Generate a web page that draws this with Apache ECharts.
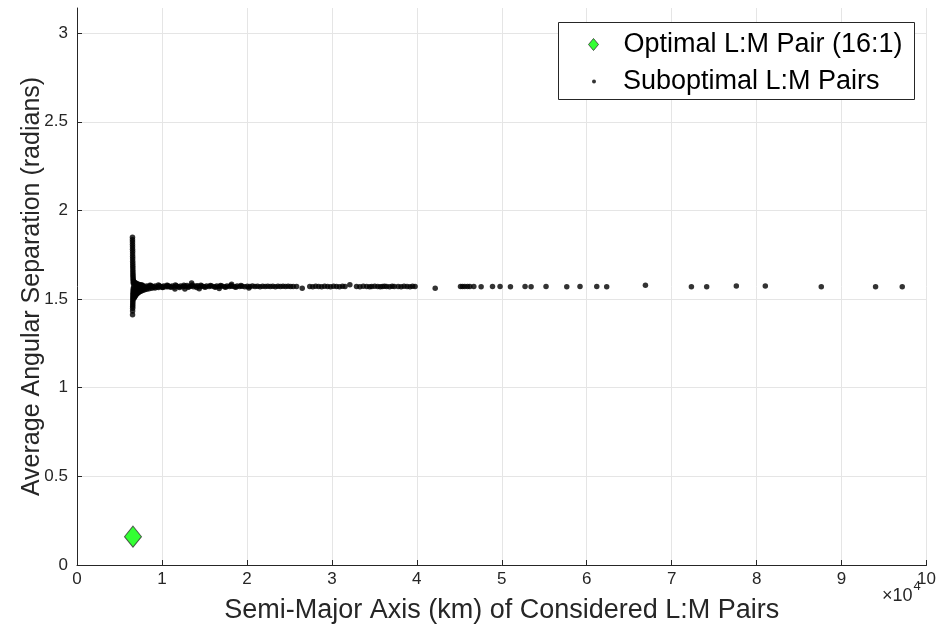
<!DOCTYPE html>
<html>
<head>
<meta charset="utf-8">
<script src="https://cdn.jsdelivr.net/npm/echarts@6/dist/echarts.min.js"></script>
<style>
html,body{margin:0;padding:0;background:#fff;}
#chart{width:939px;height:636px;}
</style>
</head>
<body>
<div id="chart"></div>
<script>
// ---- data (km, radians) ----
const optimalX = [6590];
const optimalY = [0.16];

// vertical column at the smallest semi-major axes
const columnX = [6530,6530,6535,6535,6540,6540,6545,6545,6550,6550,6555,6560,6565,6570,6575,6580,6585,6590,6600,6610,6620,6630,6640,
                 6640,6630,6620,6610,6600,6590,6585,6580,6575,6570,6565,6560,6555,6550,6545,6540];
const columnY = [1.848,1.835,1.822,1.808,1.795,1.781,1.768,1.754,1.740,1.727,1.713,1.700,1.688,1.676,1.664,1.652,1.641,1.631,1.621,1.612,1.603,1.595,1.588,
                 1.562,1.555,1.547,1.540,1.532,1.524,1.515,1.506,1.497,1.488,1.478,1.468,1.458,1.448,1.432,1.412];

// fan converging towards pi/2 just right of the column
const fanX = [6700,6760,6820,6890,6970,7060,7160,7280,7420,7580,7760,7960,8200,8480,8800,9180,9600,10100,10700,
              6720,6800,6900,7020,7180,7380,7620,7900,8250,8700,
              6700,6800,6920,7060,7240,7460,7720];
const fanY = [1.505,1.510,1.515,1.520,1.525,1.530,1.534,1.538,1.542,1.546,1.549,1.552,1.555,1.558,1.561,1.563,1.565,1.567,1.569,
              1.532,1.538,1.544,1.549,1.553,1.557,1.560,1.563,1.566,1.568,
              1.598,1.594,1.590,1.587,1.584,1.581,1.578];

// dense band near pi/2
const bandX = [6700,6950,7200,7450,7700,7950,8200,8450,8700,8950,9200,9450,9700,9950,10200,10450,10700,10950,11200,11450,11700,11950,
               12200,12450,12700,12950,13200,13450,13700,13950,14200,14450,14700,14950,15250,15550,15850,16150,16450,16750,17050,17350,
               17650,17950,18250,18550,18850,19150,19450,19750,20050,20350,20650,20950,21250,21550,21850,22150,22450,22750,23050,23350,
               23650,23950,24250,24550,24850,25150,25450,
               7080,7580,8080,8580,9080,9580,10080,10580,11080,11580,12080,12580,13080,13580,14080,14580,15100,15700,16300,16900,17500,18100,18700,19300];
const bandY = [1.574,1.569,1.576,1.570,1.575,1.568,1.574,1.570,1.576,1.569,1.573,1.568,1.575,1.570,1.574,1.569,1.576,1.570,1.573,1.568,1.575,1.570,
               1.574,1.569,1.572,1.576,1.570,1.574,1.569,1.573,1.575,1.570,1.573,1.569,1.574,1.571,1.573,1.570,1.574,1.571,1.573,1.570,
               1.573,1.571,1.572,1.570,1.573,1.571,1.572,1.570,1.572,1.571,1.573,1.571,1.572,1.570,1.572,1.571,1.572,1.571,1.572,1.570,
               1.572,1.571,1.572,1.571,1.572,1.571,1.571,
               1.566,1.579,1.565,1.578,1.566,1.579,1.565,1.578,1.566,1.579,1.565,1.578,1.566,1.579,1.565,1.578,1.567,1.577,1.567,1.577,1.567,1.576,1.567,1.576];

// isolated offsets from the band
const bumpX = [11530,12700,13490,14390,16740,18200,20235,26510,32118];
const bumpY = [1.556,1.556,1.590,1.558,1.560,1.584,1.562,1.561,1.580];

// sparse points at larger semi-major axes
const outerX = [25850,27400,27750,28100,28450,28800,29150,29500,29850,30200,30550,30900,31250,31550,
                32900,33300,33700,34100,34450,34700,35050,35400,35700,35950,36200,36450,36800,37100,37350,
                37800,38150,38500,38850,39200,39500,39800,42164,
                45140,45380,45650,45970,46240,46710,47570,48910,49800,51020,52740,53450,55210,57650,59210,61180,62350,66910,
                72320,74120,77610,81020,87610,94000,97140];
const outerY = [1.571,1.571,1.570,1.572,1.571,1.570,1.572,1.571,1.570,1.572,1.571,1.570,1.572,1.571,
                1.571,1.570,1.572,1.571,1.570,1.571,1.572,1.571,1.570,1.571,1.572,1.571,1.570,1.572,1.571,
                1.571,1.570,1.572,1.571,1.570,1.572,1.571,1.561,
                1.571,1.571,1.571,1.571,1.571,1.571,1.570,1.571,1.571,1.570,1.571,1.570,1.571,1.570,1.571,1.571,1.570,1.578,
                1.569,1.569,1.573,1.573,1.569,1.569,1.569];

const xTicks = [0,1,2,3,4,5,6,7,8,9,10];
const yTicks = [0,0.5,1,1.5,2,2.5,3];

// ---- build ----
function pairs(xs, ys){ return xs.map((x,i)=>[x, ys[i]]); }
const subData = [].concat(pairs(columnX,columnY), pairs(fanX,fanY), pairs(bandX,bandY), pairs(bumpX,bumpY), pairs(outerX,outerY));
const optData = pairs(optimalX, optimalY);

const FONT = '"Liberation Sans", Arial, Helvetica, sans-serif';
const AX = '#262626';
const GRIDC = '#e5e5e5';

const chart = echarts.init(document.getElementById('chart'), null, {renderer:'canvas'});
chart.setOption({
  animation:false,
  backgroundColor:'#fff',
  grid:{left:77, right:12, top:8, bottom:71, containLabel:false},
  xAxis:{
    type:'value', min:0, max:100000, interval:10000,
    axisLine:{show:true, onZero:false, lineStyle:{color:AX, width:1}},
    axisTick:{show:true, inside:true, length:5, lineStyle:{color:AX}},
    axisLabel:{fontFamily:FONT, fontSize:17, color:AX, margin:6,
      formatter:(v)=>{ const k = Math.round(v/10000); return xTicks.indexOf(k)>=0 ? String(k) : ''; }},
    splitLine:{show:true, lineStyle:{color:GRIDC, width:1}},
    name:'Semi-Major Axis (km) of Considered L:M Pairs',
    nameLocation:'middle', nameGap:32, nameMoveOverlap:false,
    nameTextStyle:{fontFamily:FONT, fontSize:27, color:AX}
  },
  yAxis:{
    type:'value', min:0, max:Math.PI, interval:0.5,
    axisLine:{show:true, onZero:false, lineStyle:{color:AX, width:1}},
    axisTick:{show:true, inside:true, length:5, lineStyle:{color:AX}, customValues:yTicks},
    axisLabel:{fontFamily:FONT, fontSize:17, color:AX, margin:9, customValues:yTicks,
      formatter:(v)=> String(v)},
    splitLine:{show:true, lineStyle:{color:[GRIDC,GRIDC,GRIDC,GRIDC,GRIDC,GRIDC,GRIDC,'rgba(0,0,0,0)'], width:1}},
    name:'Average Angular Separation (radians)',
    nameLocation:'middle', nameGap:32, nameMoveOverlap:false,
    nameTextStyle:{fontFamily:FONT, fontSize:25, color:AX}
  },
  legend:[
    {
      data:[{name:'Optimal L:M Pair (16:1)', icon:'diamond',
             itemStyle:{color:'#00ff00', borderColor:'#333', borderWidth:1}}],
      left:588, top:31, itemWidth:10, itemHeight:12, selectedMode:false,
      padding:0, z:5,
      textStyle:{fontFamily:FONT, fontSize:27, color:'#000', padding:[0,0,0,20]}
    },
    {
      data:[{name:'Suboptimal L:M Pairs', icon:'circle', itemStyle:{color:'#000'}}],
      left:592, top:68, itemWidth:4, itemHeight:4, selectedMode:false,
      padding:0, z:5,
      textStyle:{fontFamily:FONT, fontSize:27, color:'#000', padding:[0,0,0,22]}
    }
  ],
  graphic:[
    {type:'rect', z:3, shape:{x:558.5, y:22.5, width:356, height:77},
     style:{fill:'#fff', stroke:AX, lineWidth:1}},
    {type:'text', z:3, left:882, top:580,
     style:{text:'{a|×10}{b|4}', fill:AX, font:'18px '+FONT,
       rich:{a:{fontFamily:FONT, fontSize:18, fill:AX, verticalAlign:'bottom'},
             b:{fontFamily:FONT, fontSize:13, fill:AX, verticalAlign:'top', padding:[0,0,12,1]}}}}
  ],
  series:[
    {name:'Suboptimal L:M Pairs', type:'scatter', data:subData, symbol:'circle', symbolSize:5.5,
     itemStyle:{color:'#000'}, z:2, silent:true},
    {name:'Optimal L:M Pair (16:1)', type:'scatter', data:optData, symbol:'diamond', symbolSize:[17,21],
     itemStyle:{color:'#00ff00', borderColor:'#333', borderWidth:1}, z:3, silent:true}
  ]
});
</script>
</body>
</html>
